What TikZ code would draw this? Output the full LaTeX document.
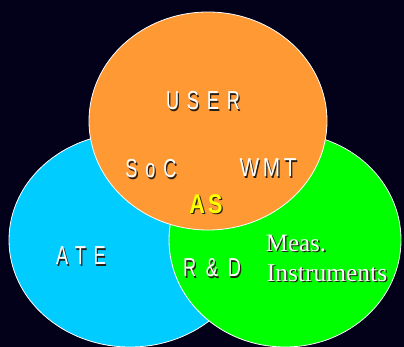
\documentclass[tikz,border=0pt]{standalone}
\usepackage{fontspec}
\usetikzlibrary{positioning}
\setmainfont{Liberation Serif}
\newfontfamily\ringfont[FakeStretch=0.7,LetterSpace=30]{Liberation Sans}
\newfontfamily\asfont[FakeStretch=0.8,LetterSpace=12]{Liberation Sans Bold}
\definecolor{nightbg}{RGB}{3,0,26}
\definecolor{userorange}{RGB}{255,153,51}
\definecolor{atecyan}{RGB}{0,204,255}
\definecolor{rdgreen}{RGB}{0,255,0}
\definecolor{asyellow}{RGB}{255,255,0}
\definecolor{txtshadow}{RGB}{40,30,20}

% text with a drop shadow behind it
\newcommand{\shadowlabel}[5]{%
  \node[lbl, text=txtshadow, xshift=1.3pt, yshift=-1.3pt] (#1-s) at (#2) {#3#5};
  \node[lbl, text=#4] (#1) at (#2) {#3#5};
}

\begin{document}
\begin{tikzpicture}[x=1pt, y=-1pt,
    ring/.style={draw=white, line width=0.8pt},
    lbl/.style={inner sep=0pt, anchor=center}]
  \fill[nightbg] (0,0) rectangle (404,347);
  \useasboundingbox (0,0) rectangle (404,347);
  % the three rings, back to front
  \filldraw[ring, fill=atecyan]    (130,240) ellipse [x radius=121, y radius=107];
  \filldraw[ring, fill=rdgreen]    (285,240) ellipse [x radius=116, y radius=107];
  \filldraw[ring, fill=userorange] (208,121) ellipse [x radius=119, y radius=109];
  % labels
  \shadowlabel{user}{203,101}{\ringfont\fontsize{26}{26}\selectfont}{white}{USER}
  \shadowlabel{soc}{151,169}{\ringfont\fontsize{26}{26}\selectfont}{white}{SoC}
  \shadowlabel{wmt}{268,168}{\fontspec[FakeStretch=0.8,LetterSpace=14]{Liberation Sans}\fontsize{26}{26}\selectfont}{white}{WMT}
  \shadowlabel{as}{206,204}{\asfont\fontsize{27}{27}\selectfont}{asyellow}{AS}
  \shadowlabel{ate}{81,256}{\ringfont\fontsize{26}{26}\selectfont}{white}{ATE}
  \shadowlabel{rnd}{212,268}{\ringfont\fontsize{26}{26}\selectfont\addfontfeature{LetterSpace=18}}{white}{R \& D}
  \shadowlabel{meas}{296,243}{\fontsize{25}{25}\selectfont}{white}{Meas.}
  \shadowlabel{instr}{327,273}{\fontsize{25.5}{25.5}\selectfont}{white}{Instruments}
\end{tikzpicture}
\end{document}
